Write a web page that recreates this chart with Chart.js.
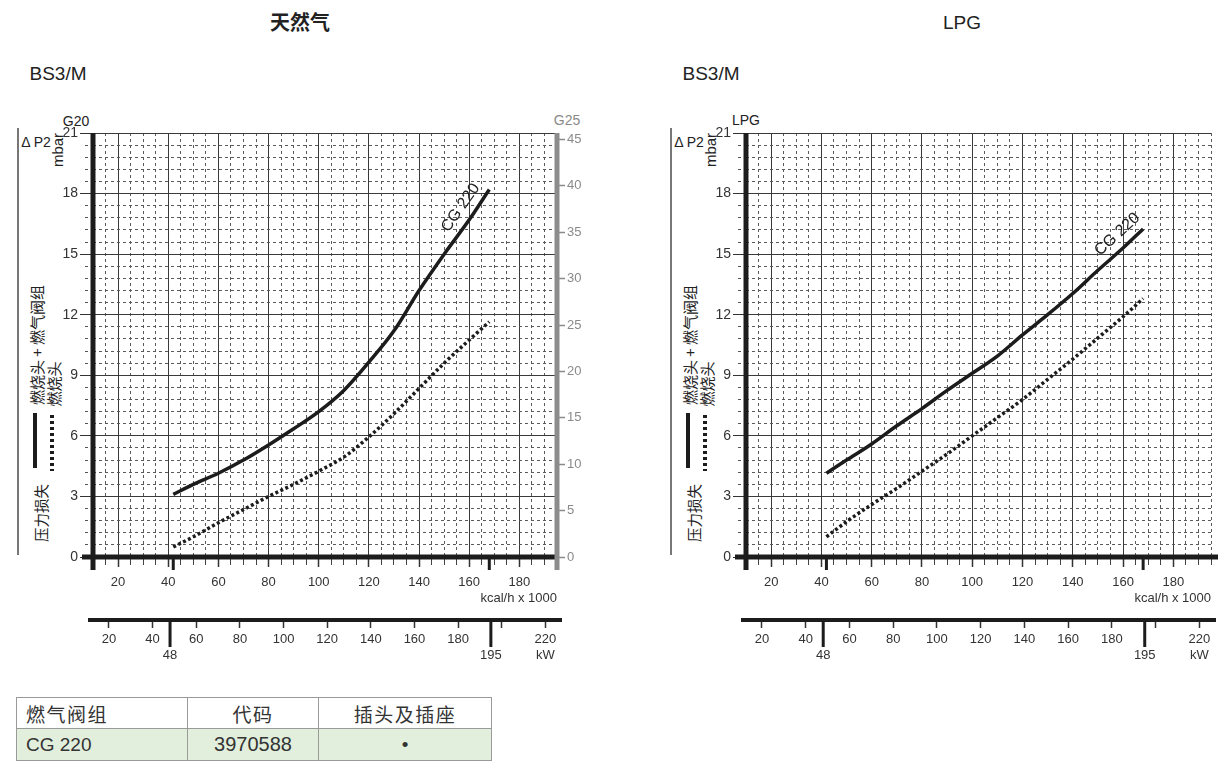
<!DOCTYPE html>
<html>
<head>
<meta charset="utf-8">
<script src="https://cdn.jsdelivr.net/npm/chart.js@4.4.1/dist/chart.umd.min.js"></script>
<style>
  body { margin: 0; width: 1221px; height: 763px; background: #fff; position: relative; overflow: hidden;
         font-family: 'Liberation Sans', Arial, 'Noto Sans CJK SC', sans-serif; color: #222; }
  .t { position: absolute; white-space: nowrap; transform: translate(-50%, -50%); line-height: 1; }
  .r { transform: translate(-50%, -50%) rotate(-90deg); }
  .cjk { font-family: 'Noto Sans CJK SC', sans-serif; }
  canvas { position: absolute; top: 100px; }
  .vline { position: absolute; width: 1.5px; background: #777; }
  .solid { position: absolute; width: 4px; background: #1c1c1c; }
  .dots { position: absolute; width: 4px; background: repeating-linear-gradient(to bottom, #1c1c1c 0 3px, transparent 3px 6px); }
  table { position: absolute; left: 16px; top: 697px; border-collapse: collapse; font-size: 19px; color: #333; }
  td { border: 1px solid #9a9a9a; padding: 0 9px; height: 30px; }
  td.cjk { letter-spacing: 1.5px; font-size: 19px; }
  tr.g td { background: #e2efdd; height: 31px; }
</style>
</head>
<body>

<div class="t cjk" style="left:300px;top:22px;font-size:20px;font-weight:bold">天然气</div>
<div class="t" style="left:962px;top:22px;font-size:19px">LPG</div>
<div class="t" style="left:58px;top:73px;font-size:19px">BS3/M</div>
<div class="t" style="left:711px;top:73px;font-size:19px">BS3/M</div>

<div class="t" style="left:76px;top:121px;font-size:14px">G20</div>
<div class="t" style="left:567px;top:120px;font-size:14px;color:#8a8a8a">G25</div>
<div class="t" style="left:746px;top:120px;font-size:14px">LPG</div>

<div id="side"></div>

<canvas id="ng" width="610" height="580" style="left:0px"></canvas>
<canvas id="lpg" width="568" height="580" style="left:653px"></canvas>

<table>
  <tr><td class="cjk" style="width:152px">燃气阀组</td><td class="cjk" style="width:112px;text-align:center">代码</td><td class="cjk" style="width:154px;text-align:center">插头及插座</td></tr>
  <tr class="g"><td>CG 220</td><td style="text-align:center;font-size:20px">3970588</td><td style="text-align:center">•</td></tr>
</table>

<script>
// kcal/h x 1000 on the x axis, mbar on the y axis
const kcalPts   = [42, 50, 60, 70, 80, 90, 100, 110, 120, 130, 140, 150, 160, 168];
const ngSolid   = [3.1, 3.6, 4.15, 4.8, 5.55, 6.35, 7.2, 8.25, 9.65, 11.2, 13.2, 15.0, 16.7, 18.2];
const ngDotted  = [0.5, 1.0, 1.7, 2.35, 3.0, 3.6, 4.25, 4.95, 5.95, 7.1, 8.35, 9.6, 10.75, 11.65];
const lpgSolid  = [4.15, 4.8, 5.6, 6.5, 7.35, 8.25, 9.1, 9.95, 11.0, 12.0, 13.05, 14.2, 15.3, 16.25];
const lpgDotted = [1.0, 1.75, 2.6, 3.4, 4.25, 5.1, 6.0, 6.9, 7.8, 8.8, 9.8, 10.85, 11.9, 12.8];

const kcalTicks = [20, 40, 60, 80, 100, 120, 140, 160, 180];
const mbarTicks = [0, 3, 6, 9, 12, 15, 18, 21];
const g25Ticks  = [0, 5, 10, 15, 20, 25, 30, 35, 40, 45];
const kwTicks   = [20, 40, 48, 60, 80, 100, 120, 140, 160, 180, 195, 200, 220];
const kwLabels  = [20, 40, 60, 80, 100, 120, 140, 160, 180, 220];
const kcalMarks = [42, 168];
const kwMarks   = [48, 195];
const curveName = 'CG 220';

Chart.defaults.font.family = "'Liberation Sans', Arial, sans-serif";

// side legend for both charts
const side = document.getElementById('side');
[93, 746].forEach(ax => {
  side.insertAdjacentHTML('beforeend',
    `<div class="vline" style="left:${ax - 76}px;top:128px;height:427px"></div>
     <div class="t" style="left:${ax - 57}px;top:142px;font-size:14px">Δ P2</div>
     <div class="t r" style="left:${ax - 36}px;top:150px;font-size:15px">mbar</div>
     <div class="t r cjk" style="left:${ax - 52}px;top:513px;font-size:14.5px">压力损失</div>
     <div class="solid" style="left:${ax - 60}px;top:413px;height:55px"></div>
     <div class="t r cjk" style="left:${ax - 57}px;top:345px;font-size:15px">燃烧头 + 燃气阀组</div>
     <div class="dots" style="left:${ax - 43}px;top:415px;height:56px"></div>
     <div class="t r cjk" style="left:${ax - 40}px;top:384px;font-size:15px">燃烧头</div>`);
});

const near = (v, m) => Math.abs(v / m - Math.round(v / m)) < 1e-6;
const clear = 'rgba(0,0,0,0)';

const decor = {
  id: 'decor',
  afterDraw(chart, args, opts) {
    const { ctx, chartArea: a, scales } = chart;
    const seg = (x1, y1, x2, y2) => { ctx.beginPath(); ctx.moveTo(x1, y1); ctx.lineTo(x2, y2); ctx.stroke(); };
    ctx.save();
    ctx.strokeStyle = '#1c1c1c';
    ctx.lineWidth = 5;
    seg(a.left, a.top, a.left, a.bottom + 13);
    seg(a.left - 11, a.bottom, a.right + (opts.g25 ? 2 : 7), a.bottom);
    const kw = scales.kw;
    ctx.lineWidth = 4;
    seg(a.left - 5, kw.top, a.right + 5, kw.top);
    ctx.lineWidth = 3;
    kcalMarks.forEach(v => { const px = scales.x.getPixelForValue(v); seg(px, a.bottom, px, a.bottom + 13); });
    kwMarks.forEach(v => { const px = kw.getPixelForValue(v); seg(px, kw.top, px, kw.top + 27); });
    if (opts.g25) {
      ctx.strokeStyle = '#8c8c8c';
      ctx.lineWidth = 5;
      seg(a.right, a.top, a.right, a.bottom + 13);
    }
    // curve name along the solid line
    const pts = chart.getDatasetMeta(0).data;
    const p = pts[opts.labelAt], q0 = pts[opts.labelAt - 1], q1 = pts[pts.length - 1];
    const ang = Math.atan2(q1.y - q0.y, q1.x - q0.x);
    const dx = Math.cos(ang), dy = Math.sin(ang);
    ctx.translate(p.x + 5 * dx + 14 * dy, p.y + 5 * dy - 14 * dx);
    ctx.rotate(ang);
    ctx.fillStyle = '#222';
    ctx.font = "16px 'Liberation Sans', Arial, sans-serif";
    ctx.textAlign = 'center';
    ctx.textBaseline = 'middle';
    ctx.fillText(curveName, 0, 0);
    ctx.restore();
  }
};

function buildChart(id, solid, dotted, withG25) {
  const scales = {
    x: {
      type: 'linear', axis: 'x', position: 'bottom', weight: 1, min: 10, max: 195,
      afterBuildTicks: s => { s.ticks = kcalTicks.map(v => ({ value: v })); },
      afterFit: s => { s.height = 63; },
      ticks: { color: '#333', font: { size: 13 }, padding: 8, autoSkip: false, maxRotation: 0, minRotation: 0 },
      grid: { color: '#3a3a3a', lineWidth: 1, tickLength: 10, tickColor: '#333', tickWidth: 1.5 },
      border: { display: false },
      title: { display: true, text: 'kcal/h x 1000', align: 'end', color: '#333', font: { size: 13 }, padding: { top: 0, bottom: 14 } }
    },
    xMinor: {
      type: 'linear', axis: 'x', position: 'bottom', weight: 0, min: 10, max: 195,
      afterFit: s => { s.height = 0; },
      ticks: { display: false, stepSize: 5 },
      grid: {
        color: c => (!c.tick || near(c.tick.value, 20) || c.tick.value === 10) ? clear : '#5a5a5a',
        tickColor: c => (!c.tick || near(c.tick.value, 20) || c.tick.value === 10) ? clear : '#444',
        lineWidth: 1, tickLength: 8
      },
      border: { display: false, dash: [3, 3] }
    },
    kw: {
      type: 'linear', axis: 'x', position: 'bottom', weight: 2, min: 12.7, max: 225.3,
      afterBuildTicks: s => { s.ticks = kwTicks.map(v => ({ value: v })); },
      afterFit: s => { s.height = 60; },
      ticks: {
        color: '#333', font: { size: 13, lineHeight: 1.25 }, padding: 3, autoSkip: false, maxRotation: 0, minRotation: 0,
        callback: v => kwMarks.includes(v) ? ['', String(v)] : v === 220 ? ['220', 'kW'] : kwLabels.includes(v) ? String(v) : ''
      },
      grid: { drawOnChartArea: false, tickLength: 8, tickWidth: 1.5,
              tickColor: c => (c.tick && kwMarks.includes(c.tick.value)) ? clear : '#333' },
      border: { display: false }
    },
    y: {
      type: 'linear', axis: 'y', position: 'left', weight: 1, min: 0, max: 21,
      afterBuildTicks: s => { s.ticks = mbarTicks.map(v => ({ value: v })); },
      afterFit: s => { s.width = 93; },
      ticks: { color: '#333', font: { size: 14 }, padding: 2, autoSkip: false },
      grid: { color: '#3a3a3a', lineWidth: 1, tickLength: 13, tickColor: '#333' },
      border: { display: false }
    },
    yMinor: {
      type: 'linear', axis: 'y', position: 'left', weight: 0, min: 0, max: 21,
      afterFit: s => { s.width = 0; },
      ticks: { display: false, stepSize: 0.6 },
      grid: {
        color: c => (!c.tick || near(c.tick.value, 3)) ? clear : '#5a5a5a',
        tickColor: c => (!c.tick || near(c.tick.value, 3)) ? clear : '#555',
        lineWidth: 1, tickLength: 8, tickBorderDash: [3, 3]
      },
      border: { display: false, dash: [3, 3] }
    }
  };
  if (withG25) {
    scales.g25 = {
      type: 'linear', axis: 'y', position: 'right', min: 0, max: 45.7,
      afterBuildTicks: s => { s.ticks = g25Ticks.map(v => ({ value: v })); },
      afterFit: s => { s.width = 53; },
      ticks: { color: '#8a8a8a', font: { size: 13 }, padding: 2, autoSkip: false },
      grid: { drawOnChartArea: false, tickLength: 8, tickColor: '#8a8a8a', tickWidth: 1.5 },
      border: { display: false }
    };
  }
  return new Chart(document.getElementById(id), {
    type: 'line',
    data: {
      datasets: [
        { data: kcalPts.map((x, i) => ({ x, y: solid[i] })), xAxisID: 'x', yAxisID: 'y',
          borderColor: '#1c1c1c', borderWidth: 3.5, pointRadius: 0, cubicInterpolationMode: 'monotone' },
        { data: kcalPts.map((x, i) => ({ x, y: dotted[i] })), xAxisID: 'x', yAxisID: 'y',
          borderColor: '#1c1c1c', borderWidth: 3.5, borderDash: [3, 2.5], pointRadius: 0, cubicInterpolationMode: 'monotone' }
      ]
    },
    options: {
      responsive: false,
      animation: false,
      layout: { padding: { top: 33, right: withG25 ? 0 : 10, bottom: 0, left: 0 } },
      plugins: { legend: { display: false }, tooltip: { enabled: false }, decor: { g25: withG25, labelAt: 12 } },
      scales
    },
    plugins: [decor]
  });
}

buildChart('ng', ngSolid, ngDotted, true);
buildChart('lpg', lpgSolid, lpgDotted, false);
</script>
</body>
</html>
